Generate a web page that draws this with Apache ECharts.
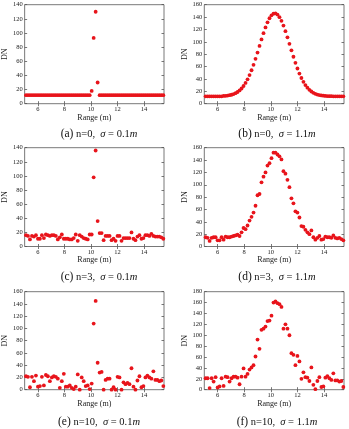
<!DOCTYPE html>
<html lang="en" style="height: 100%">
<head>
  <meta charset="utf-8">
</head>
<body style="height: 100%; margin: 0; background: #fff">
<div id="container" style="width: 349px; height: 429px"></div>
<script type="text/javascript" src="https://cdn.jsdelivr.net/npm/echarts@6/dist/echarts.min.js"></script>
<script type="text/javascript">
  // range samples (m), shared by all six panels
  const rangeM = [5.1, 5.25, 5.4, 5.55, 5.7, 5.85, 6.0, 6.15, 6.3, 6.45,
    6.6, 6.75, 6.9, 7.05, 7.2, 7.35, 7.5, 7.65, 7.8, 7.95,
    8.1, 8.25, 8.4, 8.55, 8.7, 8.85, 9.0, 9.15, 9.3, 9.45,
    9.6, 9.75, 9.9, 10.05, 10.2, 10.35, 10.5, 10.65, 10.8, 10.95,
    11.1, 11.25, 11.4, 11.55, 11.7, 11.85, 12.0, 12.15, 12.3, 12.45,
    12.6, 12.75, 12.9, 13.05, 13.2, 13.35, 13.5, 13.65, 13.8, 13.95,
    14.1, 14.25, 14.4, 14.55, 14.7, 14.85, 15.0, 15.15, 15.3, 15.45];

  // (a) n=0, sigma=0.1m
  const dnA = [12, 12, 12, 12, 12, 12, 12, 12, 12, 12,
    12, 12, 12, 12, 12, 12, 12, 12, 12, 12,
    12, 12, 12, 12, 12, 12, 12, 12, 12, 12,
    12, 12, 12, 18, 93, 130, 30, 12, 12, 12,
    12, 12, 12, 12, 12, 12, 12, 12, 12, 12,
    12, 12, 12, 12, 12, 12, 12, 12, 12, 12,
    12, 12, 12, 12, 12, 12, 12, 12, 12, 12];
  // (b) n=0, sigma=1.1m
  const dnB = [12, 12, 12, 12, 12, 12, 12, 12, 12, 12.5,
    12.8, 13.1, 13.7, 14.5, 15.5, 17.0, 18.9, 21.4, 24.6, 28.6,
    33.5, 39.4, 46.2, 54.1, 62.9, 72.5, 82.7, 93.3, 103.8, 114.0,
    123.3, 131.5, 138.1, 142.9, 145.5, 145.9, 144.0, 139.9, 133.9, 126.2,
    117.2, 107.3, 96.8, 86.2, 75.9, 66.0, 56.9, 48.7, 41.5, 35.3,
    30.1, 25.9, 22.4, 19.7, 17.6, 16.0, 14.8, 13.9, 13.3, 12.9,
    12.6, 12.4, 12.2, 12.1, 12, 12, 12, 12, 12, 12];
  // (c) n=3, sigma=0.1m
  const dnC = [16, 15, 10, 15, 14, 16, 11, 11, 16, 12,
    17, 16, 15, 16, 16, 15, 10, 13, 17, 11,
    11, 11, 10, 10, 12, 17, 8, 16, 14, 12,
    11, 10, 17, 17, 98, 136, 36, 19, 19, 9,
    15, 15, 15, 9, 11, 8, 15, 15, 8, 12,
    12, 12, 12, 20, 11, 9, 14, 16, 11, 12,
    16, 16, 15, 18, 15, 14, 14, 14, 13, 11];
  // (d) n=3, sigma=1.1m
  const dnD = [15, 14, 9, 14, 15, 15, 10, 10, 15, 11,
    16, 15, 15, 16, 17, 18, 19, 17, 23, 30,
    28, 34, 42, 48, 55, 66, 83, 85, 104, 113,
    120, 131, 135, 143, 152, 152, 149, 146, 141, 122,
    118, 108, 96, 78, 70, 57, 55, 47, 33, 32,
    27, 23, 20, 26, 15, 11, 14, 17, 11, 12,
    16, 15, 15, 14, 18, 14, 13, 14, 12, 10];
  // (e) n=10, sigma=0.1m
  const dnE = [22, 21, 4, 21, 14, 23, 5, 6, 21, 7,
    24, 22, 14, 20, 22, 21, 18, 3, 14, 26,
    5, 5, 7, 3, 1, 5, 25, 0, 20, 14,
    6, 7, 1, 10, 108, 145, 44, 28, 29, 0,
    16, 18, 18, 0, 4, 0, 21, 20, 0, 12,
    9, 11, 9, 35, 5, 0, 15, 22, 4, 6,
    20, 23, 20, 18, 30, 16, 16, 14, 15, 6];
  // (f) n=10, sigma=1.1m
  const dnF = [21, 21, 3, 21, 15, 23, 4, 6, 21, 7,
    24, 23, 15, 21, 24, 24, 22, 10, 24, 39,
    24, 29, 37, 41, 45, 61, 92, 75, 110, 112,
    116, 126, 127, 136, 160, 162, 159, 157, 152, 112,
    120, 112, 100, 67, 64, 45, 62, 52, 20, 32,
    23, 22, 16, 41, 9, 1, 16, 23, 5, 6,
    22, 25, 21, 18, 30, 17, 17, 15, 16, 5];

  const panels = [dnA, dnB, dnC, dnD, dnE, dnF];
  const yMaxes = [140, 160, 140, 160, 160, 180];
  const xTicks = [6, 8, 10, 12, 14];
  const captions = [
    ['(a)', '0', '0.1'], ['(b)', '0', '1.1'],
    ['(c)', '3', '0.1'], ['(d)', '3', '1.1'],
    ['(e)', '10', '0.1'], ['(f)', '10', '1.1']
  ];

  var dom = document.getElementById('container');
  var myChart = echarts.init(dom, null, { renderer: 'canvas' });

  const FONT = 'Liberation Serif';
  const colLeft = [24.3, 204.3];
  const rowTop = [4.7, 147.7, 291.7];
  const rowH = [99, 98.8, 98];
  const capY = [123, 266, 411];
  const capX = [94, 272];

  let grids = [], xAxes = [], yAxes = [], series = [], titles = [];
  for (let i = 0; i < 6; i++) {
    let r = Math.floor(i / 2), c = i % 2;
    grids.push({
      left: colLeft[c], top: rowTop[r], width: 139.7, height: rowH[r],
      show: true, borderColor: '#555', borderWidth: 0.8
    });
  }
  // bottom / left axes with labels, then mirrored top / right axes with ticks only
  for (let m = 0; m < 2; m++) {
    for (let i = 0; i < 6; i++) {
      xAxes.push({
        type: 'value', gridIndex: i, min: 5, max: 15.5,
        position: m ? 'top' : 'bottom',
        name: m ? '' : 'Range (m)', nameLocation: 'middle', nameGap: 9,
        nameTextStyle: { fontFamily: FONT, fontSize: 8, color: '#222' },
        axisLine: { show: false },
        axisTick: { show: true, inside: true, length: 2.5, customValues: xTicks,
          lineStyle: { color: '#555', width: 0.8 } },
        axisLabel: { show: !m, customValues: xTicks, margin: 2,
          fontFamily: FONT, fontSize: 6.5, color: '#222' },
        splitLine: { show: false }
      });
      yAxes.push({
        type: 'value', gridIndex: i, min: 0, max: yMaxes[i], interval: 20,
        position: m ? 'right' : 'left',
        name: m ? '' : 'DN', nameLocation: 'middle', nameGap: (i % 2) ? 11 : 8,
        nameTextStyle: { fontFamily: FONT, fontSize: 8, color: '#222' },
        axisLine: { show: false },
        axisTick: { show: true, inside: true, length: 2.5,
          lineStyle: { color: '#555', width: 0.8 } },
        axisLabel: { show: !m, margin: 2, fontFamily: FONT, fontSize: 6.5, color: '#222' },
        splitLine: { show: false }
      });
    }
  }
  for (let i = 0; i < 6; i++) {
    series.push({
      type: 'scatter', xAxisIndex: i, yAxisIndex: i,
      symbolSize: 3.8, itemStyle: { color: '#e8141b', opacity: 1 },
      data: rangeM.map((x, k) => [x, panels[i][k]]),
      silent: true
    });
    let cap = captions[i];
    titles.push({
      text: '{p|' + cap[0] + '} n=' + cap[1] + ',  {i|σ} = ' + cap[2] + '{i|m}',
      left: capX[i % 2], top: capY[Math.floor(i / 2)], textAlign: 'center',
      textStyle: {
        fontFamily: FONT, fontSize: 10.5, fontWeight: 'normal', color: '#111',
        rich: {
          p: { fontFamily: FONT, fontSize: 11.5, color: '#111' },
          i: { fontFamily: FONT, fontSize: 10.5, fontStyle: 'italic', color: '#111' }
        }
      }
    });
  }

  var option = {
    animation: false,
    backgroundColor: '#fff',
    title: titles,
    grid: grids,
    xAxis: xAxes,
    yAxis: yAxes,
    series: series
  };
  myChart.setOption(option);
  window.addEventListener('resize', myChart.resize);
</script>
</body>
</html>
